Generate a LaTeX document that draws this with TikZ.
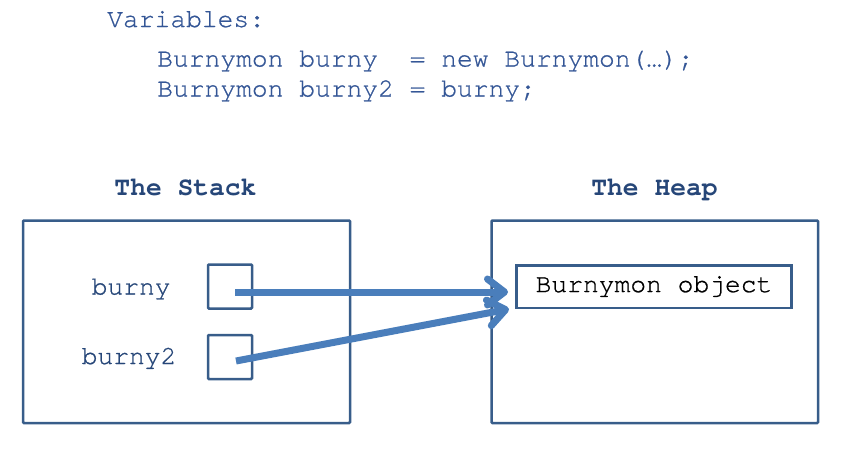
\documentclass[tikz,border=0pt]{standalone}
\usepackage{fontspec}
\setmonofont{texgyrecursor-regular.otf}[BoldFont=texgyrecursor-bold.otf, UprightFeatures={FakeBold=0.8}]
\usetikzlibrary{arrows.meta}

\definecolor{codeblue}{RGB}{52,86,150}
\definecolor{titleblue}{RGB}{38,70,120}
\definecolor{boxblue}{RGB}{56,93,138}
\definecolor{arrowblue}{RGB}{74,126,187}

\tikzset{
  code/.style={anchor=base west, inner sep=0pt, text=codeblue, font=\ttfamily\fontsize{26.3}{30}\selectfont},
  title/.style={anchor=base, inner sep=0pt, text=titleblue, font=\ttfamily\bfseries\fontsize{26.3}{30}\selectfont},
  region/.style={draw=boxblue, line width=2.5pt, rounded corners=1pt},
  ptr/.style={draw=boxblue, line width=2.5pt, rounded corners=1pt, minimum width=44pt, minimum height=44pt, inner sep=0pt},
  ref/.style={draw=arrowblue, line width=7pt, -{Straight Barb[length=17pt, width=26pt, round]}}
}

\begin{document}
\begin{tikzpicture}[x=1pt, y=-1pt]
\useasboundingbox (0,0) rectangle (843,451);

\node[code] (vars) at (107,27) {Variables:};
\node[code] (line1) at (157,66.5) {Burnymon burny\ \ = new Burnymon(…);};
\node[code] (line2) at (157,96.5) {Burnymon burny2 = burny;};

\node[title] (stacktitle) at (185.5,195) {The Stack};
\node[title] (heaptitle) at (654.5,195) {The Heap};

\draw[region] (23,220.5) rectangle (350,423) node[coordinate] (stack) {};
\draw[region] (491.5,220.5) rectangle (818,423) node[coordinate] (heap) {};

\node[ptr] (ptr1) at (230,286.5) {};
\node[ptr] (ptr2) at (230,357) {};
\node[code, text=titleblue] (lbl1) at (91.5,294.5) {burny};
\node[code, text=titleblue] (lbl2) at (81.5,364) {burny2};

\node[draw=boxblue, line width=2.5pt, minimum width=275pt, minimum height=42.5pt, inner sep=0pt,
  font=\ttfamily\fontsize{26.3}{30}\selectfont, text=black] (obj) at (654,286.5) {Burnymon object};

\coordinate (end1) at (508,292);
\coordinate (end2) at (509,309);
\draw[ref] ([xshift=5pt,yshift=-5.5pt]ptr1.center) -- (end1);
\draw[ref] ([xshift=6pt,yshift=-4pt]ptr2.center) -- (end2);
\end{tikzpicture}
\end{document}
